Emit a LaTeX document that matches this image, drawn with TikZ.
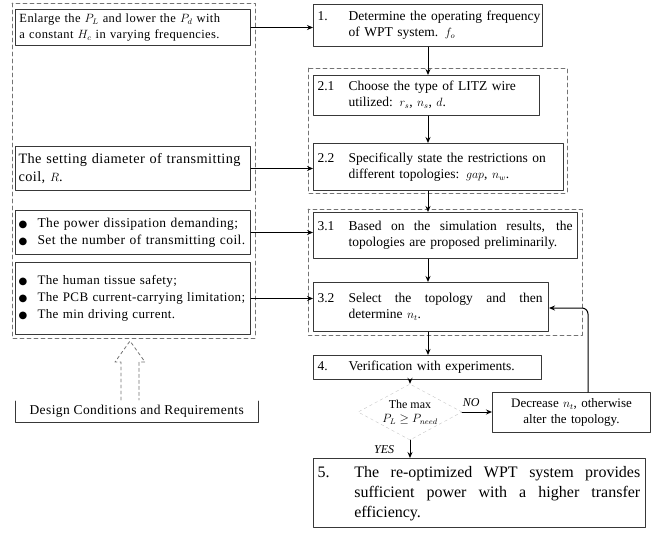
\documentclass[tikz,border=0pt]{standalone}
\usepackage{fontspec}
\setmainfont{Liberation Serif}
\newfontfamily\widefont[LetterSpace=3]{Liberation Serif}
\newfontfamily\symfont{DejaVu Sans}
\usetikzlibrary{arrows.meta}
\usetikzlibrary{shapes.geometric}
\definecolor{boxgray}{rgb}{0.22,0.22,0.22}
\definecolor{dashgray}{rgb}{0.45,0.45,0.45}
\newcommand{\stepno}[2]{\makebox[2.3em][l]{#1}\begin{tabular}[t]{@{}l@{}}#2\end{tabular}}
\newcommand{\fullline}[2]{\makebox[#1][s]{\spaceskip=0pt\relax #2}}
\newcommand{\dotitem}[1]{\mbox{\makebox[19pt][l]{{\symfont\fontsize{10}{10}\selectfont ●}}#1}}
\newcommand{\var}[1]{{\large$#1$}}

\begin{document}
\begin{tikzpicture}[x=1pt,y=-1pt,line cap=round,line join=round,>={Stealth[length=6pt,width=5pt]},
  stepbox/.style={draw=boxgray,line width=1pt,fill=white,anchor=north west,align=left,inner xsep=4pt,inner ysep=2pt,font=\fontsize{13.5}{16}\selectfont},
  condbox/.style={stepbox,inner xsep=3pt,font=\widefont\fontsize{13.5}{17}\selectfont},
  groupline/.style={draw=dashgray,line width=0.9pt,dash pattern=on 4pt off 3pt},
  decision/.style={diamond,draw=gray!45,dashed,aspect=2,inner sep=0pt,align=center,minimum width=104,minimum height=56,font=\fontsize{12}{14}\selectfont},
  flow/.style={->,line width=1pt}]
\useasboundingbox (0,0) rectangle (655,547);
% design conditions (left column)
\draw[groupline] (12,3) rectangle (255,338);
\node[condbox,inner xsep=4pt,font=\widefont\fontsize{12.5}{16}\selectfont,text width=227,minimum height=36] (condA) at (15,9) {Enlarge the \var{P_L} and lower the \var{P_d} with\\a constant \var{H_c} in varying frequencies.};
\node[condbox,font=\widefont\fontsize{14.3}{18}\selectfont,text width=229,minimum height=44] (condB) at (15,146) {The setting diameter of transmitting\\coil, \var{R}.};
\node[condbox,text width=229,minimum height=44] (condC) at (15,210) {\dotitem{The power dissipation demanding;}\\\dotitem{Set the number of transmitting coil.}};
\node[condbox,font=\widefont\fontsize{13}{17}\selectfont,text width=229,minimum height=72] (condD) at (15,262) {\dotitem{The human tissue safety;}\\\dotitem{The PCB current-carrying limitation;}\\\dotitem{The min driving current.}};
\node[anchor=north west,minimum width=243,minimum height=21,inner sep=0pt,font=\widefont\fontsize{13.5}{17}\selectfont] (cond) at (15,401) {Design Conditions and Requirements};
\draw[boxgray,line width=1pt] (cond.north west) -- (cond.south west) -- (cond.south east) -- (cond.north east);
\draw[dashed,draw=dashgray,line width=0.8pt,fill=white] (121,400) -- (121,362) -- (115,362) -- (130,341) -- (145,362) -- (139,362) -- (139,400);
% design steps (right column)
\draw[groupline] (308,68) rectangle (567,193);
\draw[groupline] (308,209) rectangle (582,335);
\node[stepbox,text width=221,minimum height=42] (s1) at (313,4) {\stepno{1.}{Determine the operating frequency\\of WPT system. \var{f_o}}};
\node[stepbox,text width=218,minimum height=40] (s21) at (313,75) {\stepno{2.1}{Choose the type of LITZ wire\\utilized: \var{r_s}, \var{n_s}, \var{d}.}};
\node[stepbox,text width=242,minimum height=47] (s22) at (313,143) {\stepno{2.2}{Specifically state the restrictions on\\different topologies: \var{gap}, \var{n_w}.}};
\node[stepbox,text width=256,minimum height=46] (s31) at (313,212) {\stepno{3.1}{\fullline{224pt}{Based on the simulation results, the}\\topologies are proposed preliminarily.}};
\node[stepbox,text width=227,minimum height=49] (s32) at (313,282) {\stepno{3.2}{\fullline{194pt}{Select the topology and then}\\determine \var{n_t}.}};
\node[stepbox,text width=220,minimum height=24] (s4) at (313,355) {\stepno{4.}{Verification with experiments.}};
\node[decision] (dia) at (410,412) {The max\\$P_L\geq P_{need}$};
\node[stepbox,align=center,text width=150,minimum height=40,font=\fontsize{13}{16}\selectfont] (dec) at (492,392) {Decrease \var{n_t}, otherwise\\alter the topology.};
\node[stepbox,font=\fontsize{16}{20}\selectfont,text width=324,minimum height=69] (s5) at (313,458) {\stepno{5.}{\fullline{286pt}{The re-optimized WPT system provides}\\\fullline{286pt}{sufficient power with a higher transfer}\\efficiency.}};
\coordinate (bend) at (588,308);
% connectors
\draw[flow] (condA.east) -- (condA.east -| s1.west);
\draw[flow] (condB.east) -- (condB.east -| s22.west);
\draw[flow] (condC.east) -- (condC.east -| s31.west);
\draw[flow] (condD.east) -- (condD.east -| s32.west);
\draw[flow] (s1.south) -- (s1.south |- s21.north);
\draw[flow] (s21.south -| s1.south) -- (s22.north -| s1.south);
\draw[flow] (s22.south -| s1.south) -- (s31.north -| s1.south);
\draw[flow] (s31.south -| s1.south) -- (s32.north -| s1.south);
\draw[flow] (s32.south -| s1.south) -- (s4.north -| s1.south);
\draw[flow] (s4.south -| dia.north) -- (dia.north);
\draw[flow] (dia.east) -- node[pos=0.3,above=2pt,font=\itshape\fontsize{12}{14}\selectfont] {NO} (dia.east -| dec.west);
\draw[flow] (dia.south) -- node[midway,left=12pt,font=\itshape\fontsize{12}{14}\selectfont] {YES} (dia.south |- s5.north);
\draw[flow,rounded corners=6pt] (dec.north -| bend) -- (bend) -- (bend -| s32.east);
\end{tikzpicture}
\end{document}
